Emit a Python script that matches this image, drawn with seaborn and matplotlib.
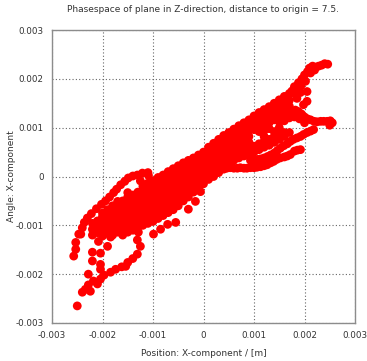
import matplotlib
matplotlib.use("Agg")
import matplotlib.pyplot as plt
import seaborn as sns
import pandas as pd

# ---- data (values in units of 1e-3) ----
tick_vals = [-3, -2, -1, 0, 1, 2, 3]
tick_labels = ["-0.003", "-0.002", "-0.001", "0", "0.001", "0.002", "0.003"]

arc_x = [-2.57, -2.53, -2.53, -2.47, -2.40, -2.36, -2.30, -2.22, -2.12, -2.02, -1.94, -1.86,
         -1.78, -1.72, -1.64, -1.56, -1.49, -1.40, -1.31, -1.21, -1.10, -1.09, -1.25, -1.12,
         -1.50, -1.42, -1.70, -2.00, -2.43]
arc_y = [-1.63, -1.49, -1.35, -1.18, -1.05, -0.94, -0.85, -0.76, -0.66, -0.57, -0.50, -0.42,
         -0.33, -0.26, -0.17, -0.10, -0.03, 0.01, 0.03, 0.07, 0.08, 0.02, -0.09, -0.15,
         -0.33, -0.43, -0.51, -0.82, -1.18]

lowleft_x = [-2.50, -2.40, -2.34, -2.24, -2.28, -2.18, -2.10, -2.04, -2.28, -1.97, -1.84, -1.74,
             -1.62, -1.50, -1.40, -1.31, -1.25, -1.31, -1.29, -2.04, -2.04, -2.20, -2.20, -2.04,
             -2.08, -1.90, -1.84, -1.54]
lowleft_y = [-2.65, -2.37, -2.31, -2.35, -2.22, -2.14, -2.20, -2.10, -2.00, -2.02, -1.96, -1.90,
             -1.85, -1.76, -1.68, -1.59, -1.43, -1.30, -1.14, -1.90, -1.80, -1.73, -1.55, -1.57,
             -1.33, -1.43, -1.24, -1.84]

sparse_x = [-0.99, -0.85, -0.71, -0.55, -0.30, -0.16, -0.06]
sparse_y = [-1.18, -1.08, -0.98, -0.94, -0.67, -0.51, -0.31]

band_col_x = [-2.2, -2.1, -2.0, -1.9, -1.8, -1.7, -1.6, -1.5, -1.4, -1.3, -1.2, -1.1, -1.0,
              -0.9, -0.8, -0.7, -0.6, -0.5, -0.4, -0.3, -0.2, -0.1, 0.0, 0.1, 0.2, 0.3, 0.4,
              0.5, 0.6, 0.7, 0.8, 0.9, 1.0, 1.1, 1.2, 1.3, 1.4, 1.5, 1.6, 1.7]
band_col_y = [
    [-1.2, -1.08, -0.96],
    [-1.15, -1.03, -0.91],
    [-1.22, -1.1, -0.98, -0.86, -0.75],
    [-1.16, -1.04, -0.92, -0.8, -0.68],
    [-1.2, -1.08, -0.96, -0.84, -0.72, -0.6],
    [-1.14, -1.02, -0.9, -0.78, -0.66, -0.55],
    [-1.2, -1.08, -0.96, -0.84, -0.72, -0.6, -0.5],
    [-1.14, -1.02, -0.9, -0.78, -0.66, -0.54, -0.42],
    [-1.1, -0.98, -0.86, -0.74, -0.62, -0.5, -0.38],
    [-1.04, -0.92, -0.8, -0.68, -0.56, -0.44, -0.32],
    [-1.0, -0.88, -0.76, -0.64, -0.52, -0.4, -0.28, -0.2],
    [-0.96, -0.84, -0.72, -0.6, -0.48, -0.36, -0.24, -0.14],
    [-0.92, -0.8, -0.68, -0.56, -0.44, -0.32, -0.2, -0.09],
    [-0.86, -0.74, -0.62, -0.5, -0.38, -0.26, -0.14, -0.02],
    [-0.8, -0.68, -0.56, -0.44, -0.32, -0.2, -0.08, 0.03],
    [-0.74, -0.62, -0.5, -0.38, -0.26, -0.14, -0.02, 0.1],
    [-0.68, -0.56, -0.44, -0.32, -0.2, -0.08, 0.04, 0.16],
    [-0.6, -0.48, -0.36, -0.24, -0.12, 0.0, 0.12, 0.22],
    [-0.5, -0.38, -0.26, -0.14, -0.02, 0.1, 0.22, 0.28],
    [-0.42, -0.3, -0.18, -0.06, 0.06, 0.18, 0.3, 0.33],
    [-0.32, -0.2, -0.08, 0.04, 0.16, 0.28, 0.38],
    [-0.24, -0.12, 0.0, 0.12, 0.24, 0.36, 0.44],
    [-0.15, -0.03, 0.09, 0.21, 0.33, 0.45, 0.5],
    [-0.06, 0.06, 0.18, 0.3, 0.42, 0.54, 0.6],
    [0.0, 0.12, 0.24, 0.36, 0.48, 0.6, 0.68],
    [0.08, 0.2, 0.32, 0.44, 0.56, 0.68, 0.76],
    [0.15, 0.27, 0.39, 0.51, 0.63, 0.75, 0.84],
    [0.3, 0.42, 0.54, 0.66, 0.78, 0.9],
    [0.33, 0.45, 0.57, 0.69, 0.81, 0.93, 0.97],
    [0.38, 0.5, 0.62, 0.74, 0.86, 0.98, 1.04],
    [0.42, 0.54, 0.66, 0.78, 0.9, 1.02, 1.1],
    [0.46, 0.58, 0.7, 0.82, 0.94, 1.06, 1.16],
    [0.5, 0.62, 0.96, 1.08, 1.2, 1.24],
    [0.55, 0.67, 0.92, 1.04, 1.16, 1.28, 1.31],
    [0.6, 0.72, 0.82, 0.94, 1.06, 1.18, 1.3, 1.37],
    [0.64, 0.76, 0.98, 1.1, 1.22, 1.34, 1.43],
    [0.7, 0.82, 0.92, 1.16, 1.28, 1.4, 1.5],
    [0.76, 0.88, 1.0, 1.12, 1.24, 1.36, 1.48, 1.57],
    [0.82, 0.9, 1.14, 1.26, 1.38, 1.5, 1.64],
    [0.9, 1.2, 1.32, 1.44, 1.56, 1.7],
]

upper_arm_x = [1.75, 1.80, 1.86, 1.88, 1.93, 1.95, 2.00, 2.02, 2.06, 2.10, 2.16, 2.22, 2.28,
               2.34, 2.40, 2.46, 2.05, 2.05, 1.98, 1.80, 1.85, 1.92, 2.12, 2.20]
upper_arm_y = [1.75, 1.84, 1.80, 1.92, 1.86, 2.00, 2.08, 1.95, 2.15, 2.22, 2.26, 2.24, 2.26,
               2.28, 2.31, 2.30, 1.74, 1.54, 1.47, 1.70, 1.60, 1.72, 2.12, 2.18]

mid_arm_x = [1.75, 1.82, 1.88, 1.94, 2.00, 2.06, 2.12, 2.19, 2.25, 2.32, 2.38, 2.45, 2.51, 2.55,
             2.50, 1.80, 1.90, 2.00]
mid_arm_y = [1.33, 1.36, 1.33, 1.28, 1.22, 1.18, 1.16, 1.13, 1.12, 1.13, 1.13, 1.13, 1.14, 1.10,
             1.05, 1.22, 1.18, 1.10]

third_arm_x = [0.93, 1.00, 1.07, 1.13, 1.20, 1.27, 1.33, 1.40, 1.46, 1.52, 1.59, 1.66, 1.72,
               1.78, 1.85, 1.92, 1.98, 2.05, 2.12, 2.18]
third_arm_y = [0.33, 0.34, 0.35, 0.36, 0.38, 0.41, 0.44, 0.48, 0.53, 0.58, 0.63, 0.67, 0.72,
               0.76, 0.79, 0.82, 0.86, 0.90, 0.93, 0.96]

low_arm_x = [0.46, 0.53, 0.60, 0.67, 0.73, 0.80, 0.86, 0.93, 1.00, 1.06, 1.13, 1.20, 1.26,
             1.33, 1.39, 1.45, 1.52, 1.60, 1.66, 1.72, 1.80, 1.86, 1.92]
low_arm_y = [0.17, 0.18, 0.17, 0.17, 0.18, 0.17, 0.17, 0.18, 0.18, 0.19, 0.20, 0.22, 0.24,
             0.28, 0.31, 0.35, 0.38, 0.40, 0.42, 0.45, 0.52, 0.54, 0.55]

# ---- build table ----
xs, ys = [], []
for gx, gy in [(arc_x, arc_y), (lowleft_x, lowleft_y), (sparse_x, sparse_y),
               (upper_arm_x, upper_arm_y), (mid_arm_x, mid_arm_y),
               (third_arm_x, third_arm_y), (low_arm_x, low_arm_y)]:
    xs.extend(gx)
    ys.extend(gy)
for cx, col in zip(band_col_x, band_col_y):
    for cy in col:
        xs.append(cx)
        ys.append(cy)
df = pd.DataFrame({"x": [v * 1e-3 for v in xs], "y": [v * 1e-3 for v in ys]})

# ---- plot ----
sns.set_style("white")
plt.rcParams["font.family"] = ["DejaVu Sans"]

fig = plt.figure(figsize=(3.67, 3.61), dpi=100)
ax = fig.add_axes([52 / 367, 1 - 323 / 361, (355 - 52) / 367, (323 - 30) / 361])

sns.scatterplot(data=df, x="x", y="y", ax=ax, color="#ff0000", s=40,
                linewidth=0, edgecolor="none", zorder=3, legend=False)

ax.set_xlim(-0.003, 0.003)
ax.set_ylim(-0.003, 0.003)
ticks = [v * 1e-3 for v in tick_vals]
ax.set_xticks(ticks)
ax.set_yticks(ticks)
ax.set_xticklabels(tick_labels)
ax.set_yticklabels(tick_labels)
ax.tick_params(axis="both", direction="out", length=4, width=0.8, color="#888888",
               labelsize=6.3, labelcolor="#333333", pad=2)

ax.grid(True, color="#666666", linestyle=(0, (1, 2)), linewidth=0.8)
ax.set_axisbelow(True)
for sp in ax.spines.values():
    sp.set_color("#8c8c8c")
    sp.set_linewidth(1.0)
    sp.set_visible(True)

ax.set_xlabel("Position: X-component / [m]", fontsize=6.5, color="#333333")
ax.set_ylabel("Angle: X-component", fontsize=6.5, color="#333333")
ax.xaxis.set_label_coords(0.5, (323 - 354) / 293)
ax.yaxis.set_label_coords((11 - 52) / 303, 0.5)
ax.xaxis.label.set_va("center")
ax.yaxis.label.set_va("center")
fig.text(203 / 367, 1 - 10 / 361, "Phasespace of plane in Z-direction, distance to origin = 7.5.",
         ha="center", va="center", fontsize=6.5, color="#333333")

fig.savefig("out.png", dpi=100)
